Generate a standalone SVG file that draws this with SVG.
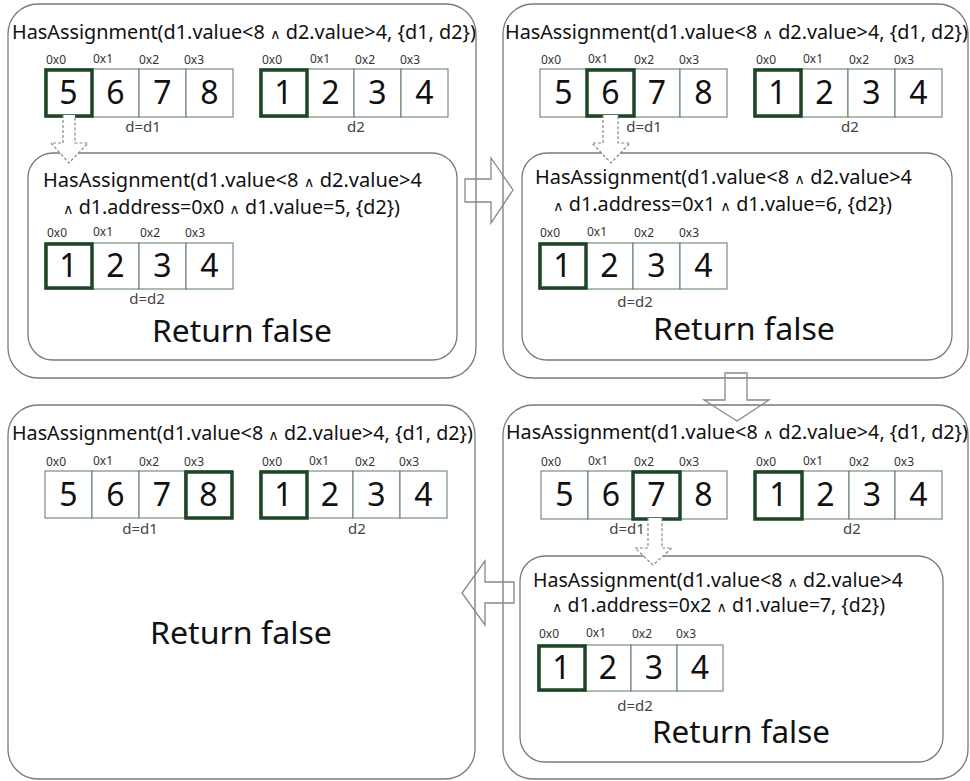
<svg xmlns="http://www.w3.org/2000/svg" width="970" height="781" viewBox="0 0 970 781">
<style>
text{font-family:"Noto Sans","Open Sans","DejaVu Sans",sans-serif;fill:#111}
.panel{fill:none;stroke:#7a7a7a;stroke-width:1.3}
.inner{fill:#fff;stroke:#7a7a7a;stroke-width:1.3}
.cell{fill:#fff;stroke:#5b7a60;stroke-width:1}
.hl{fill:none;stroke:#1f4527;stroke-width:3.5}
.t{font-size:19px}
.addr{font-size:12px;fill:#333}
.dig{font-size:32px;text-anchor:middle}
.lab{font-size:15px;fill:#444;text-anchor:middle}
.ret{font-size:30px}
.and{font-size:14px}
.big{fill:none;stroke:#888;stroke-width:1.3}
.dash{fill:#fff;stroke:#888;stroke-width:1.2;stroke-dasharray:3 2}
</style>
<rect width="970" height="781" fill="#fff"/>

<g id="panel1">
<rect class="panel" x="8" y="4" width="468" height="374" rx="30"/>
<text class="t" x="12" y="39" textLength="464" lengthAdjust="spacingAndGlyphs">HasAssignment(d1.value&lt;8 <tspan class="and">∧</tspan> d2.value&gt;4, {d1, d2})</text>
<text class="addr" x="46" y="64">0x0</text><text class="addr" x="93" y="63">0x1</text><text class="addr" x="139" y="64">0x2</text><text class="addr" x="184" y="64">0x3</text>
<text class="addr" x="262" y="64">0x0</text><text class="addr" x="310" y="63">0x1</text><text class="addr" x="355" y="64">0x2</text><text class="addr" x="400" y="64">0x3</text>
<rect class="cell" x="45" y="69" width="47" height="48"/><rect class="cell" x="92" y="69" width="47" height="48"/><rect class="cell" x="139" y="69" width="47" height="48"/><rect class="cell" x="186" y="69" width="47" height="48"/>
<rect class="cell" x="260" y="69" width="47" height="48"/><rect class="cell" x="307" y="69" width="47" height="48"/><rect class="cell" x="354" y="69" width="47" height="48"/><rect class="cell" x="401" y="69" width="47" height="48"/>
<rect class="hl" x="46" y="70" width="46" height="46"/><rect class="hl" x="261" y="70" width="46" height="46"/>
<text class="dig" x="68.5" y="104">5</text><text class="dig" x="115.5" y="104">6</text><text class="dig" x="162.5" y="104">7</text><text class="dig" x="209.5" y="104">8</text>
<text class="dig" x="283.5" y="104">1</text><text class="dig" x="330.5" y="104">2</text><text class="dig" x="377.5" y="104">3</text><text class="dig" x="424.5" y="104">4</text>
<text class="lab" x="143" y="132">d=d1</text><text class="lab" x="356" y="132">d2</text>
</g>
<g id="panel1-inner">
<rect class="inner" x="28" y="153" width="429" height="207" rx="25"/>
<text class="t" x="43" y="187" textLength="379" lengthAdjust="spacingAndGlyphs">HasAssignment(d1.value&lt;8 <tspan class="and">∧</tspan> d2.value&gt;4</text>
<text class="t" x="63" y="214" textLength="337" lengthAdjust="spacingAndGlyphs"><tspan class="and">∧</tspan> d1.address=0x0 <tspan class="and">∧</tspan> d1.value=5, {d2})</text>
<text class="addr" x="47" y="237">0x0</text><text class="addr" x="93" y="236">0x1</text><text class="addr" x="140" y="237">0x2</text><text class="addr" x="185" y="237">0x3</text>
<rect class="cell" x="45" y="243" width="47" height="46"/><rect class="cell" x="92" y="243" width="47" height="46"/><rect class="cell" x="139" y="243" width="47" height="46"/><rect class="cell" x="186" y="243" width="47" height="46"/>
<rect class="hl" x="46" y="244" width="46" height="44"/>
<text class="dig" x="68.5" y="277">1</text><text class="dig" x="115.5" y="277">2</text><text class="dig" x="162.5" y="277">3</text><text class="dig" x="209.5" y="277">4</text>
<text class="lab" x="147" y="304">d=d2</text>
<text class="ret" x="152" y="342" textLength="180" lengthAdjust="spacingAndGlyphs">Return false</text>
</g>

<g id="panel2">
<rect class="panel" x="503" y="4" width="465" height="374" rx="30"/>
<text class="t" x="505" y="39" textLength="463" lengthAdjust="spacingAndGlyphs">HasAssignment(d1.value&lt;8 <tspan class="and">∧</tspan> d2.value&gt;4, {d1, d2})</text>
<text class="addr" x="541" y="64">0x0</text><text class="addr" x="588" y="63">0x1</text><text class="addr" x="634" y="64">0x2</text><text class="addr" x="679" y="64">0x3</text>
<text class="addr" x="756" y="64">0x0</text><text class="addr" x="803" y="63">0x1</text><text class="addr" x="849" y="64">0x2</text><text class="addr" x="894" y="64">0x3</text>
<rect class="cell" x="540" y="69" width="47" height="48"/><rect class="cell" x="587" y="69" width="47" height="48"/><rect class="cell" x="634" y="69" width="46" height="48"/><rect class="cell" x="680" y="69" width="47" height="48"/>
<rect class="cell" x="754" y="69" width="47" height="48"/><rect class="cell" x="801" y="69" width="47" height="48"/><rect class="cell" x="848" y="69" width="47" height="48"/><rect class="cell" x="895" y="69" width="47" height="48"/>
<rect class="hl" x="587" y="70" width="47" height="46"/><rect class="hl" x="755" y="70" width="46" height="46"/>
<text class="dig" x="563.5" y="104">5</text><text class="dig" x="610.5" y="104">6</text><text class="dig" x="657" y="104">7</text><text class="dig" x="703.5" y="104">8</text>
<text class="dig" x="777.5" y="104">1</text><text class="dig" x="824.5" y="104">2</text><text class="dig" x="871.5" y="104">3</text><text class="dig" x="918.5" y="104">4</text>
<text class="lab" x="644" y="132">d=d1</text><text class="lab" x="850" y="132">d2</text>
</g>
<g id="panel2-inner">
<rect class="inner" x="522" y="153" width="430" height="207" rx="25"/>
<text class="t" x="535" y="184" textLength="377" lengthAdjust="spacingAndGlyphs">HasAssignment(d1.value&lt;8 <tspan class="and">∧</tspan> d2.value&gt;4</text>
<text class="t" x="553" y="211" textLength="339" lengthAdjust="spacingAndGlyphs"><tspan class="and">∧</tspan> d1.address=0x1 <tspan class="and">∧</tspan> d1.value=6, {d2})</text>
<text class="addr" x="540" y="237">0x0</text><text class="addr" x="587" y="236">0x1</text><text class="addr" x="634" y="237">0x2</text><text class="addr" x="679" y="237">0x3</text>
<rect class="cell" x="539" y="243" width="47" height="46"/><rect class="cell" x="586" y="243" width="47" height="46"/><rect class="cell" x="633" y="243" width="47" height="46"/><rect class="cell" x="680" y="243" width="47" height="46"/>
<rect class="hl" x="540" y="244" width="46" height="44"/>
<text class="dig" x="562.5" y="277">1</text><text class="dig" x="609.5" y="277">2</text><text class="dig" x="656.5" y="277">3</text><text class="dig" x="703.5" y="277">4</text>
<text class="lab" x="635" y="307">d=d2</text>
<text class="ret" x="653" y="340" textLength="182" lengthAdjust="spacingAndGlyphs">Return false</text>
</g>

<g id="panel3">
<rect class="panel" x="8" y="405" width="467" height="374" rx="30"/>
<text class="t" x="12" y="440" textLength="461" lengthAdjust="spacingAndGlyphs">HasAssignment(d1.value&lt;8 <tspan class="and">∧</tspan> d2.value&gt;4, {d1, d2})</text>
<text class="addr" x="46" y="466">0x0</text><text class="addr" x="93" y="465">0x1</text><text class="addr" x="139" y="466">0x2</text><text class="addr" x="184" y="466">0x3</text>
<text class="addr" x="262" y="466">0x0</text><text class="addr" x="309" y="465">0x1</text><text class="addr" x="355" y="466">0x2</text><text class="addr" x="399" y="466">0x3</text>
<rect class="cell" x="45" y="471" width="47" height="47"/><rect class="cell" x="92" y="471" width="47" height="47"/><rect class="cell" x="139" y="471" width="46" height="47"/><rect class="cell" x="185" y="471" width="47" height="47"/>
<rect class="cell" x="260" y="471" width="47" height="47"/><rect class="cell" x="307" y="471" width="46" height="47"/><rect class="cell" x="353" y="471" width="47" height="47"/><rect class="cell" x="400" y="471" width="47" height="47"/>
<rect class="hl" x="186" y="472" width="46" height="46"/><rect class="hl" x="261" y="472" width="46" height="46"/>
<text class="dig" x="68.5" y="506">5</text><text class="dig" x="115.5" y="506">6</text><text class="dig" x="162" y="506">7</text><text class="dig" x="208.5" y="506">8</text>
<text class="dig" x="283.5" y="506">1</text><text class="dig" x="330" y="506">2</text><text class="dig" x="376.5" y="506">3</text><text class="dig" x="423.5" y="506">4</text>
<text class="lab" x="140" y="534">d=d1</text><text class="lab" x="357" y="534">d2</text>
<text class="ret" x="150" y="644" textLength="182" lengthAdjust="spacingAndGlyphs">Return false</text>
</g>

<g id="panel4">
<rect class="panel" x="503" y="405" width="465" height="374" rx="30"/>
<text class="t" x="506" y="439" textLength="462" lengthAdjust="spacingAndGlyphs">HasAssignment(d1.value&lt;8 <tspan class="and">∧</tspan> d2.value&gt;4, {d1, d2})</text>
<text class="addr" x="541" y="466">0x0</text><text class="addr" x="588" y="465">0x1</text><text class="addr" x="634" y="466">0x2</text><text class="addr" x="679" y="466">0x3</text>
<text class="addr" x="756" y="466">0x0</text><text class="addr" x="803" y="465">0x1</text><text class="addr" x="849" y="466">0x2</text><text class="addr" x="894" y="466">0x3</text>
<rect class="cell" x="541" y="471" width="47" height="48"/><rect class="cell" x="588" y="471" width="46" height="48"/><rect class="cell" x="634" y="471" width="46" height="48"/><rect class="cell" x="680" y="471" width="47" height="48"/>
<rect class="cell" x="755" y="471" width="47" height="48"/><rect class="cell" x="802" y="471" width="47" height="48"/><rect class="cell" x="849" y="471" width="46" height="48"/><rect class="cell" x="895" y="471" width="47" height="48"/>
<rect class="hl" x="633" y="472" width="47" height="47"/><rect class="hl" x="755" y="472" width="47" height="47"/>
<text class="dig" x="564.5" y="506">5</text><text class="dig" x="611" y="506">6</text><text class="dig" x="656.5" y="506">7</text><text class="dig" x="703.5" y="506">8</text>
<text class="dig" x="778.5" y="506">1</text><text class="dig" x="825.5" y="506">2</text><text class="dig" x="872" y="506">3</text><text class="dig" x="918.5" y="506">4</text>
<text class="lab" x="627" y="534">d=d1</text><text class="lab" x="852" y="534">d2</text>
</g>
<g id="panel4-inner">
<rect class="inner" x="520" y="556" width="423" height="206" rx="25"/>
<text class="t" x="533" y="587" textLength="370" lengthAdjust="spacingAndGlyphs">HasAssignment(d1.value&lt;8 <tspan class="and">∧</tspan> d2.value&gt;4</text>
<text class="t" x="552" y="612" textLength="333" lengthAdjust="spacingAndGlyphs"><tspan class="and">∧</tspan> d1.address=0x2 <tspan class="and">∧</tspan> d1.value=7, {d2})</text>
<text class="addr" x="539" y="638">0x0</text><text class="addr" x="586" y="637">0x1</text><text class="addr" x="632" y="638">0x2</text><text class="addr" x="676" y="638">0x3</text>
<rect class="cell" x="538" y="645" width="47" height="46"/><rect class="cell" x="585" y="645" width="46" height="46"/><rect class="cell" x="631" y="645" width="46" height="46"/><rect class="cell" x="677" y="645" width="46" height="46"/>
<rect class="hl" x="539" y="646" width="46" height="44"/>
<text class="dig" x="561.5" y="679">1</text><text class="dig" x="608" y="679">2</text><text class="dig" x="654" y="679">3</text><text class="dig" x="700" y="679">4</text>
<text class="lab" x="635" y="711">d=d2</text>
<text class="ret" x="652" y="743" textLength="178" lengthAdjust="spacingAndGlyphs">Return false</text>
</g>

<g id="connectors">
<path class="dash" d="M63,115 V143 H51 L69,163 L88,143 H75 V115"/>
<path class="dash" d="M603,115 V143 H592 L611,163 L630,143 H618 V115"/>
<path class="dash" d="M648,518 V548 H635 L653,565 L672,548 H662 V518"/>
<path class="big" d="M465,179 H491 V158 L513,190 L491,223 V202 H465 Z"/>
<path class="big" d="M725,373 H747 V400 H769 L737,421 L704,400 H725 Z"/>
<path class="big" d="M514,582 H485 V561 L462,593 L485,625 V603 H514 Z"/>
</g>
</svg>
